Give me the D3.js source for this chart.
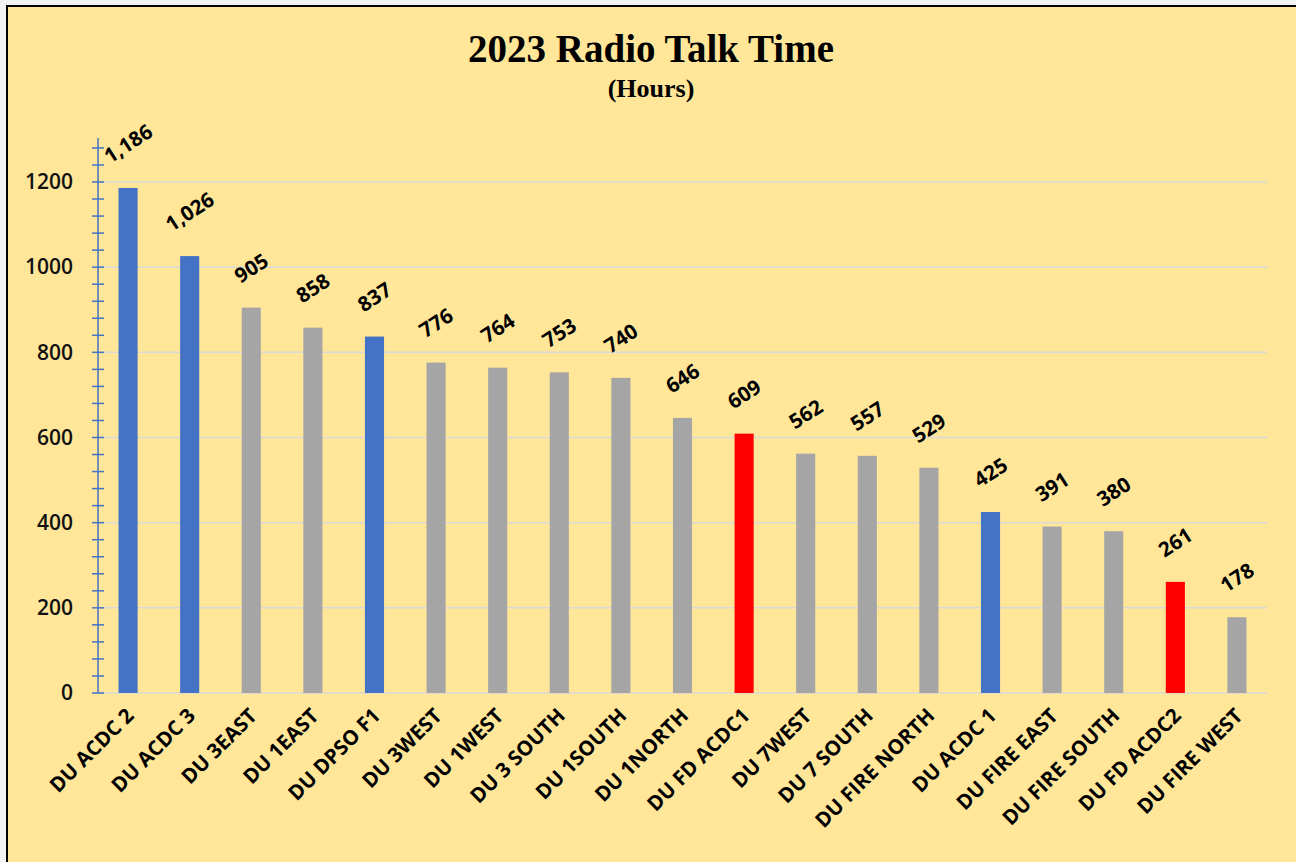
<!DOCTYPE html>
<html><head><meta charset="utf-8">
<script src="https://cdn.jsdelivr.net/npm/d3@7"></script>
<style>html,body{margin:0;padding:0;background:#f2f2f2;}svg{display:block;}</style>
</head><body>
<svg id="chart" width="1296" height="862"></svg>
<script>
const categories = ["DU ACDC 2","DU ACDC 3","DU 3EAST","DU 1EAST","DU DPSO F1","DU 3WEST","DU 1WEST","DU 3 SOUTH","DU 1SOUTH","DU 1NORTH","DU FD ACDC1","DU 7WEST","DU 7 SOUTH","DU FIRE NORTH","DU ACDC 1","DU FIRE EAST","DU FIRE SOUTH","DU FD ACDC2","DU FIRE WEST"];
const values = [1186,1026,905,858,837,776,764,753,740,646,609,562,557,529,425,391,380,261,178];
const groups = ["blue","blue","grey","grey","blue","grey","grey","grey","grey","grey","red","grey","grey","grey","blue","grey","grey","red","grey"];
const yTicks = [0,200,400,600,800,1000,1200];
const minorTicks = d3.range(0,1300,40);
const colors = {blue:"#4472C4", grey:"#A5A5A5", red:"#FF0000"};

const svg = d3.select("#chart");
svg.append("rect").attr("x",7).attr("y",6).attr("width",1300).attr("height",870)
  .attr("fill","#FFE699").attr("stroke","#000").attr("stroke-width",2);

const pLeft=98, pRight=1267, pTop=138, pBottom=693;
const x = d3.scaleBand().domain(categories).range([pLeft,pRight]).paddingInner(0.69).paddingOuter(0.333);
const y = d3.scaleLinear().domain([0,1200]).range([pBottom,182]);

// gridlines
svg.append("g").selectAll("line").data(yTicks).join("line")
  .attr("x1",pLeft).attr("x2",pRight).attr("y1",d=>y(d)).attr("y2",d=>y(d))
  .attr("stroke","#D9D9D9").attr("stroke-width",1.5);

// bars
svg.append("g").selectAll("rect").data(categories).join("rect")
  .attr("x",d=>x(d)).attr("width",x.bandwidth())
  .attr("y",(d,i)=>y(values[i])).attr("height",(d,i)=>pBottom-y(values[i]))
  .attr("fill",(d,i)=>colors[groups[i]]);

// y axis
const yAxis = d3.axisLeft(y).tickValues(yTicks).tickSize(0).tickPadding(25).tickFormat(d3.format("d"));
const ya = svg.append("g").attr("transform",`translate(${pLeft},0)`).call(yAxis);
ya.select(".domain").remove();
svg.append("line").attr("x1",pLeft).attr("x2",pLeft).attr("y1",pTop).attr("y2",pBottom)
  .attr("stroke","#4472C4").attr("stroke-width",1.5);
ya.selectAll("text").attr("font-family","'Open Sans', sans-serif").attr("font-size",21).attr("font-weight",600).attr("fill","#111");
svg.append("g").selectAll("line").data(minorTicks).join("line")
  .attr("x1",pLeft-6).attr("x2",pLeft+6).attr("y1",d=>y(d)).attr("y2",d=>y(d))
  .attr("stroke","#4472C4").attr("stroke-width",1.5);

// x labels
svg.append("g").selectAll("text").data(categories).join("text")
  .attr("transform",d=>`translate(${x(d)+x.bandwidth()/2+7},${pBottom+24}) rotate(-45)`)
  .attr("text-anchor","end")
  .attr("font-family","'Open Sans', sans-serif").attr("font-weight","bold").attr("font-size",20.5)
  .attr("fill","#000").text(d=>d);

// value labels: rotated, bounding box centred above each bar
const ang = 33, rad = ang*Math.PI/180, fs = 20.5, capH = fs*0.714;
svg.append("g").selectAll("text").data(categories).join("text")
  .attr("font-family","'Open Sans', sans-serif").attr("font-weight","bold").attr("font-size",fs)
  .attr("text-anchor","middle").attr("dy","0.36em")
  .attr("fill","#000").text((d,i)=>d3.format(",")(values[i]))
  .each(function(d,i){
    const L = this.getComputedTextLength();
    const bh = L*Math.sin(rad) + capH*Math.cos(rad);
    const cx = x(d)+x.bandwidth()/2;
    const cy = y(values[i]) - 24 - bh/2;
    d3.select(this).attr("transform",`translate(${cx},${cy}) rotate(${-ang})`);
  });

// title
svg.append("text").attr("x",651).attr("y",62).attr("text-anchor","middle")
  .attr("font-family","'Liberation Serif', serif").attr("font-weight","bold").attr("font-size",39)
  .text("2023 Radio Talk Time");
svg.append("text").attr("x",651).attr("y",97).attr("text-anchor","middle")
  .attr("font-family","'Liberation Serif', serif").attr("font-weight","bold").attr("font-size",26)
  .text("(Hours)");
</script>
</body></html>
